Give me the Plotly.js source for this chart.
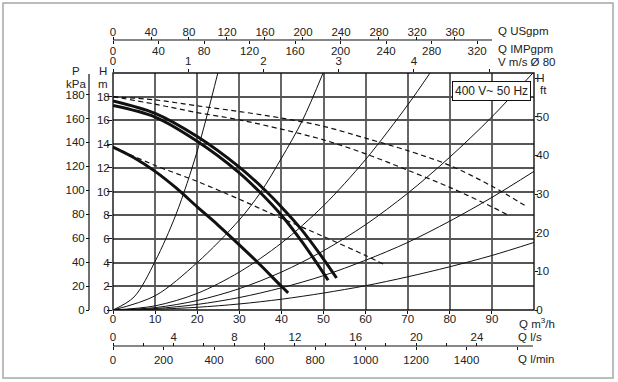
<!DOCTYPE html>
<html>
<head>
<meta charset="utf-8">
<script src="https://cdn.plot.ly/plotly-3.0.1.min.js"></script>
<style>html,body{margin:0;padding:0;background:#fff;}#chart{width:618px;height:382px;}</style>
</head>
<body>
<div id="chart"></div>
<script>
// ---- data (Q in m3/h, H in m) ----
// pump curves (thick)
const pumpAQ = [0, 10, 20, 30, 36, 40, 44.4, 50, 53.1];
const pumpAH = [17.65, 16.6, 14.64, 12.06, 10.15, 8.7, 6.95, 4.3, 2.7];
const pumpBQ = [0, 10, 20, 30, 34.5, 40, 45, 50, 51.1];
const pumpBH = [17.25, 16.28, 14.24, 11.58, 10.08, 8.0, 5.71, 3.11, 2.51];
const pumpCQ = [0, 5, 10, 15, 20, 25, 30, 35, 40, 41.6];
const pumpCH = [13.75, 12.85, 11.7, 10.3, 8.7, 7.15, 5.5, 3.8, 2.0, 1.45];
// dashed curves
const dash1Q = [0, 10, 20, 30, 40, 50, 60, 70, 80, 90, 98.4];
const dash1H = [18, 17.73, 17.23, 16.75, 16.2, 15.5, 14.5, 13.45, 12.2, 10.45, 8.7];
const dash2Q = [0, 10, 20, 30, 40, 50, 60, 70, 80, 90, 93.6];
const dash2H = [18, 17.37, 16.66, 16.05, 15.26, 14.36, 13.18, 11.8, 10.35, 8.7, 8.05];
const dash3Q = [2, 10, 20, 30, 40, 50, 60, 64.6];
const dash3H = [13.45, 12.2, 10.85, 9.35, 7.75, 6.2, 4.6, 3.8];
// system curves (thin)
const sys1Q = [0, 5, 10, 15, 20, 24.9];
const sys1H = [0, 1.1, 4.1, 8.1, 13.4, 20];
const sys2Q = [0, 10, 20, 30, 35, 40, 45, 49.9];
const sys2H = [0, 1.2, 4.0, 7.6, 9.9, 12.8, 16.0, 20];
const sys3Q = [0, 10, 20, 30, 40, 50, 60, 70, 75.3];
const sys3H = [0, 0.35, 1.4, 3.2, 5.65, 8.8, 12.7, 17.3, 20];
const sys4Q = [0, 10, 20, 30, 40, 50, 60, 70, 80, 90, 100];
const sys4H = [0, 0.2, 0.8, 1.8, 3.2, 5.0, 7.2, 9.85, 12.9, 16.3, 20.1];
const sys5Q = [0, 10, 20, 30, 40, 50, 60, 70, 80, 90, 100];
const sys5H = [0, 0.12, 0.47, 1.05, 1.87, 2.9, 4.2, 5.7, 7.5, 9.5, 11.7];
const sys6Q = [0, 10, 20, 30, 40, 50, 60, 70, 80, 90, 100];
const sys6H = [0, 0.06, 0.23, 0.51, 0.91, 1.43, 2.05, 2.8, 3.65, 4.6, 5.7];

// ---- tick labels ----
const flowTicks = [0, 10, 20, 30, 40, 50, 60, 70, 80, 90];
const headMTicks = [0, 2, 4, 6, 8, 10, 12, 14, 16, 18];
const headFtTicks = [0, 10, 20, 30, 40, 50, 60];
const headFtLabels = ['0', '10', '20', '30', '40', '50', 'H'];
const kpaTicks = [0, 20, 40, 60, 80, 100, 120, 140, 160, 180];
const velTicks = [0, 1, 2, 3, 4, 5];
const velLabels = ['0', '1', '2', '3', '4', ' '];
const usgpmTicks = [0, 40, 80, 120, 160, 200, 240, 280, 320, 360];
const impgpmTicks = [0, 40, 80, 120, 160, 200, 240, 280, 320];
const lsTicks = [0, 2, 4, 6, 8, 10, 12, 14, 16, 18, 20, 22, 24];
const lsLabels = ['0', ' ', '4', ' ', '8', ' ', '12', ' ', '16', ' ', '20', ' ', '24'];
const lminTicks = [0, 200, 400, 600, 800, 1000, 1200, 1400, 1600];
const lminLabels = ['0', '200', '400', '600', '800', '1000', '1200', '1400', ' '];

// ---- helpers (pixel -> paper) ----
const W = 618, Hh = 382;
const px = v => v / W;
const py = v => 1 - v / Hh;
const INK = '#111';
const FONT = 'Liberation Sans, Arial, Helvetica, sans-serif';

function line(q, h, width, dash) {
  return {x: q, y: h, type: 'scatter', mode: 'lines', xaxis: 'x', yaxis: 'y',
    line: {color: INK, width: width, dash: dash || 'solid', shape: 'spline', smoothing: 0.9},
    hoverinfo: 'skip', showlegend: false};
}
function dummy(xa, ya) {
  return {x: [], y: [], type: 'scatter', mode: 'lines', xaxis: xa, yaxis: ya, showlegend: false, hoverinfo: 'skip'};
}

const traces = [
  line(sys1Q, sys1H, 1), line(sys2Q, sys2H, 1), line(sys3Q, sys3H, 1),
  line(sys4Q, sys4H, 1), line(sys5Q, sys5H, 1), line(sys6Q, sys6H, 1),
  line(dash1Q, dash1H, 1.2, '5px,3.5px'), line(dash2Q, dash2H, 1.2, '5px,3.5px'), line(dash3Q, dash3H, 1.2, '5px,3.5px'),
  line(pumpAQ, pumpAH, 3), line(pumpBQ, pumpBH, 3), line(pumpCQ, pumpCH, 3),
  dummy('x2', 'y'), dummy('x3', 'y'), dummy('x4', 'y'), dummy('x5', 'y'), dummy('x6', 'y'),
  dummy('x', 'y2'), dummy('x', 'y3')
];

const tf = {family: FONT, size: 11.5, color: '#222'};
const axBase = {showgrid: false, zeroline: false, showline: false, ticks: 'outside', ticklen: 3, tickcolor: INK, tickwidth: 1,
  tickfont: tf, fixedrange: true};

const xDom = [px(113), px(534)];
const yDom = [py(310), py(73)];

const layout = {
  width: W, height: Hh,
  margin: {l: 0, r: 0, t: 0, b: 0, autoexpand: false},
  paper_bgcolor: '#fff', plot_bgcolor: '#fff', showlegend: false,
  font: tf,
  xaxis: Object.assign({}, axBase, {domain: xDom, anchor: 'y', range: [0, 100], tickmode: 'array', tickvals: flowTicks,
    showgrid: true, gridcolor: '#666', gridwidth: 1.5, ticklabelstandoff: -5}),
  yaxis: Object.assign({}, axBase, {domain: yDom, anchor: 'x', range: [0, 20], tickmode: 'array', tickvals: headMTicks,
    ticklen: 5, showgrid: true, gridcolor: '#555', gridwidth: 1.5, ticklabelstandoff: -5}),
  yaxis2: Object.assign({}, axBase, {overlaying: 'y', side: 'right', anchor: 'x', range: [0, 61.3], tickmode: 'array',
    tickvals: headFtTicks, ticktext: headFtLabels, ticklabelstandoff: -4}),
  yaxis3: Object.assign({}, axBase, {overlaying: 'y', side: 'left', anchor: 'free', position: px(89), range: [0, 198],
    tickmode: 'array', tickvals: kpaTicks, ticklabelstandoff: -1}),
  xaxis2: Object.assign({}, axBase, {overlaying: 'x', side: 'top', anchor: 'y', range: [0, 5.595], tickmode: 'array',
    tickvals: velTicks, ticktext: velLabels, ticklabelstandoff: -1}),
  xaxis3: Object.assign({}, axBase, {overlaying: 'x', side: 'top', anchor: 'free', position: py(40), range: [0, 443.2],
    tickmode: 'array', tickvals: usgpmTicks, ticklabelstandoff: -4}),
  xaxis4: Object.assign({}, axBase, {overlaying: 'x', side: 'bottom', anchor: 'free', position: py(40), range: [0, 370],
    tickmode: 'array', tickvals: impgpmTicks, ticklabelstandoff: -3}),
  xaxis5: Object.assign({}, axBase, {overlaying: 'x', side: 'top', anchor: 'free', position: py(346), range: [0, 27.76],
    tickmode: 'array', tickvals: lsTicks, ticktext: lsLabels, ticklabelstandoff: -3}),
  xaxis6: Object.assign({}, axBase, {overlaying: 'x', side: 'bottom', anchor: 'free', position: py(346), range: [0, 1666.7],
    tickmode: 'array', tickvals: lminTicks, ticktext: lminLabels}),
  shapes: [
    // outer frame
    {type: 'rect', xref: 'paper', yref: 'paper', x0: px(3), x1: px(613), y0: py(378), y1: py(3),
      line: {color: '#a6a6a6', width: 1.5}, fillcolor: 'rgba(0,0,0,0)'},
    // plot border
    {type: 'rect', xref: 'paper', yref: 'paper', x0: xDom[0], x1: xDom[1], y0: yDom[0], y1: yDom[1],
      line: {color: INK, width: 1.4}, fillcolor: 'rgba(0,0,0,0)'},
    // gpm axis line
    {type: 'line', xref: 'paper', yref: 'paper', x0: px(113), x1: px(492), y0: py(40), y1: py(40),
      line: {color: INK, width: 1.2}},
    // l/s - l/min axis line
    {type: 'line', xref: 'paper', yref: 'paper', x0: px(113), x1: px(533), y0: py(346), y1: py(346),
      line: {color: INK, width: 1.2}},
    // kPa axis line
    {type: 'line', xref: 'paper', yref: 'paper', x0: px(89), x1: px(89), y0: py(310), y1: py(74),
      line: {color: INK, width: 1.2}}
  ],
  annotations: [
    {text: 'P', x: px(76), y: py(71.5)},
    {text: 'kPa', x: px(76), y: py(84)},
    {text: 'H', x: px(103), y: py(71.5)},
    {text: 'm', x: px(103), y: py(84)},
    {text: 'ft', x: px(543), y: py(90)},
    {text: 'Q USgpm', x: px(496), y: py(31), xanchor: 'left'},
    {text: 'Q IMPgpm', x: px(496), y: py(49), xanchor: 'left'},
    {text: 'V m/s Ø 80', x: px(496), y: py(62), xanchor: 'left'},
    {text: 'Q m<sup>3</sup>/h', x: px(516.5), y: py(322.5), xanchor: 'left'},
    {text: 'Q l/s', x: px(516), y: py(337), xanchor: 'left'},
    {text: 'Q l/min', x: px(516), y: py(359), xanchor: 'left'},
    {text: '400 V~ 50 Hz', x: px(491.3), y: py(90.5), bgcolor: '#fff', bordercolor: INK, borderwidth: 1, borderpad: 2,
      font: {family: FONT, size: 12, color: '#222'}}
  ].map(a => Object.assign({xref: 'paper', yref: 'paper', showarrow: false, xanchor: 'center', yanchor: 'middle',
    font: tf}, a))
};

Plotly.newPlot('chart', traces, layout, {displayModeBar: false});
</script>
</body>
</html>
